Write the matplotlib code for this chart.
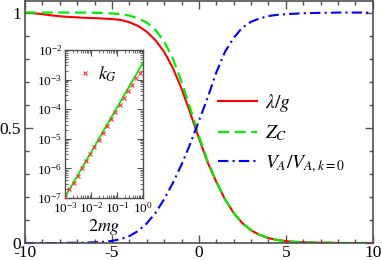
import numpy as np
import matplotlib
matplotlib.use("Agg")
import matplotlib.pyplot as plt
from matplotlib.ticker import MultipleLocator, LogLocator, NullFormatter

plt.rcParams['font.family'] = ['Liberation Serif', 'DejaVu Serif']
plt.rcParams['mathtext.fontset'] = 'stix'
plt.rcParams['axes.unicode_minus'] = False

# main curves
x = [-10, -9.5, -9, -8.5, -8, -7.5, -7, -6.5, -6, -5.5, -5, -4.5, -4, -3.5, -3,
     -2.5, -2, -1.5, -1, -0.5, 0, 0.5, 1, 1.5, 2, 2.5, 3, 3.5, 4, 4.5, 5, 5.5,
     6, 6.5, 7, 7.5, 8, 8.5, 9, 9.5, 10]
lam_g = [1.0, 0.997, 0.993, 0.988, 0.984, 0.981, 0.979, 0.977, 0.976, 0.974, 0.972,
         0.968, 0.958, 0.942, 0.917, 0.880, 0.830, 0.760, 0.670, 0.565, 0.455, 0.350,
         0.265, 0.190, 0.130, 0.086, 0.055, 0.035, 0.021, 0.013, 0.008, 0.005,
         0.003, 0.002, 0.001, 0.001, 0.0, 0.0, 0.0, 0.0, 0.0]
z_c = [1.0, 1.0, 1.0, 1.0, 1.0, 1.0, 1.0, 1.0, 0.999, 0.998, 0.996, 0.993, 0.987,
       0.975, 0.957, 0.925, 0.875, 0.800, 0.700, 0.585, 0.465, 0.355, 0.268, 0.190,
       0.130, 0.087, 0.056, 0.035, 0.022, 0.013, 0.008, 0.005, 0.003, 0.002, 0.001,
       0.001, 0.0, 0.0, 0.0, 0.0, 0.0]
v_a = [0.0, 0.0, 0.0, 0.0, 0.0, 0.001, 0.001, 0.002, 0.003, 0.005, 0.009, 0.017,
       0.030, 0.052, 0.085, 0.130, 0.190, 0.260, 0.340, 0.430, 0.530, 0.630, 0.740,
       0.830, 0.890, 0.935, 0.960, 0.975, 0.985, 0.990, 0.993, 0.995, 0.997, 0.998,
       0.999, 0.999, 1.0, 1.0, 1.0, 1.0, 1.0]

# inset data
mg_pts = [1.0e-3, 1.38e-3, 2.14e-3, 3.09e-3, 4.47e-3, 6.46e-3, 9.33e-3, 1.35e-2,
          2.0e-2, 2.82e-2, 4.27e-2, 6.03e-2, 8.51e-2, 0.126, 0.182, 0.257, 0.380,
          0.537, 0.794]
kg_pts = [1.07e-7, 1.95e-7, 3.31e-7, 5.75e-7, 1.0e-6, 1.74e-6, 3.02e-6, 5.25e-6,
          9.12e-6, 1.58e-5, 2.75e-5, 4.57e-5, 8.13e-5, 1.38e-4, 2.45e-4, 3.98e-4,
          6.61e-4, 1.10e-3, 1.70e-3]
mg_line = [1.0e-3, 1.0]
kg_line = [1.07e-7, 3.7e-3]

fig = plt.figure(figsize=(3.82, 2.60), dpi=100)
ax = fig.add_axes([0.0654, 0.0654, 0.9106, 0.9306])
spine_col = '#505050'

ax.plot(x, lam_g, color='#ff0000', lw=1.5, label=r'$\lambda/g$')
ax.plot(x, z_c, color='#00ee00', lw=1.6, ls=(0, (5, 2.5)), label=r'$Z_C$')
ax.plot(x, v_a, color='#0000ff', lw=1.5, ls=(0, (5, 2, 1, 2)), label=r'$V_A/V_{A,k=0}$')

ax.set_xlim(-10, 10)
ax.set_ylim(0, 1.05)
ax.xaxis.set_major_locator(MultipleLocator(5))
ax.xaxis.set_minor_locator(MultipleLocator(1))
ax.yaxis.set_major_locator(MultipleLocator(0.5))
ax.yaxis.set_minor_locator(MultipleLocator(0.1))
ax.set_yticks([0, 0.5, 1])
ax.set_yticklabels(['0', '0.5', '1'])
ax.tick_params(which='both', direction='in', top=True, right=True, colors=spine_col,
               labelcolor='black', labelsize=12.5)
ax.tick_params(which='major', length=6, width=1)
ax.tick_params(which='minor', length=3, width=1)
ax.tick_params(axis='x', pad=1.5)
ax.tick_params(axis='y', pad=3)
for s in ax.spines.values():
    s.set_color(spine_col)
    s.set_linewidth(1.2)

leg = ax.legend(loc='upper left', bbox_to_anchor=(0.555, 0.625), frameon=False,
                fontsize=14, handlelength=2.0, borderpad=0, borderaxespad=0,
                labelspacing=0.5, handletextpad=0.4)

# inset
ai = fig.add_axes([65/382, 1 - 198/260, 78/382, 148/260])
ai.plot(mg_line, kg_line, color='#00ee00', lw=1.3, zorder=2)
ai.plot(mg_pts, kg_pts, ls='none', marker='x', color='#ff3030', ms=3.5, mew=0.8,
        label=r'$k_G$', zorder=3)
ai.set_xscale('log')
ai.set_yscale('log')
ai.set_xlim(1e-3, 1)
ai.set_ylim(1e-7, 1e-2)
ai.xaxis.set_major_locator(LogLocator(base=10, numticks=10))
ai.xaxis.set_minor_locator(LogLocator(base=10, subs=np.arange(2, 10), numticks=20))
ai.yaxis.set_major_locator(LogLocator(base=10, numticks=10))
ai.yaxis.set_minor_locator(LogLocator(base=10, subs=np.arange(2, 10), numticks=20))
ai.xaxis.set_minor_formatter(NullFormatter())
ai.yaxis.set_minor_formatter(NullFormatter())
ai.tick_params(which='both', direction='in', top=True, right=True, colors=spine_col,
               labelcolor='black', labelsize=9.5, pad=2)
ai.tick_params(which='major', length=4, width=0.8)
ai.tick_params(which='minor', length=2, width=0.6)
for s in ai.spines.values():
    s.set_color(spine_col)
    s.set_linewidth(1.0)
ai.set_xlabel(r'$2mg$', fontsize=13, labelpad=1)
ai.legend(loc='upper left', frameon=False, fontsize=13, handlelength=0.6,
          handletextpad=0.4, borderpad=0.5, borderaxespad=0.3)

fig.savefig('out.png', dpi=100)
